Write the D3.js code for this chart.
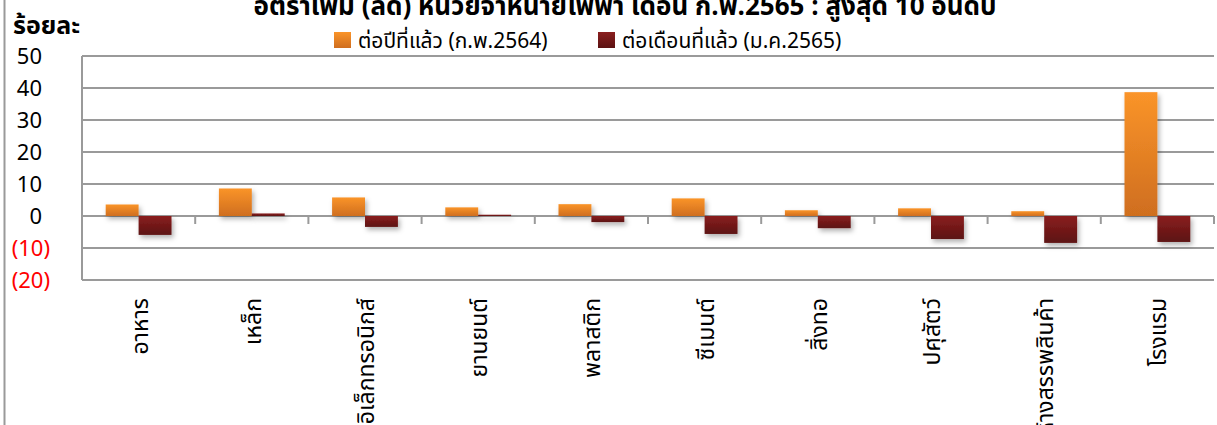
<!DOCTYPE html>
<html><head><meta charset="utf-8">
<script src="https://cdn.jsdelivr.net/npm/d3@7"></script>
<style>
html,body{margin:0;padding:0;background:#fff;overflow:hidden;}
svg{display:block;font-family:Tahoma,"Leelawadee UI","Noto Sans Thai","Noto Sans",sans-serif;}
</style></head>
<body>
<svg id="chart" width="1217" height="425"></svg>
<script>
const categories = ["อาหาร","เหล็ก","อิเล็กทรอนิกส์","ยานยนต์","พลาสติก","ซีเมนต์","สิ่งทอ","ปศุสัตว์","ห้างสรรพสินค้า","โรงแรม"];
const yoyValues = [3.6, 8.6, 5.8, 2.7, 3.7, 5.5, 1.8, 2.4, 1.5, 38.7];
const momValues = [-5.9, 0.8, -3.4, 0.4, -1.9, -5.6, -3.8, -7.2, -8.4, -8.1];
const seriesNames = ["ต่อปีที่แล้ว (ก.พ.2564)", "ต่อเดือนที่แล้ว (ม.ค.2565)"];
const yTicks = [50, 40, 30, 20, 10, 0, -10, -20];
const titleText = "อัตราเพิ่ม (ลด) หน่วยจำหน่ายไฟฟ้า เดือน ก.พ.2565 : สูงสุด 10 อันดับ";
const yTitle = "ร้อยละ";

const svg = d3.select("#chart");
const W = 1217, H = 425;
const m = {left: 82, right: 1214, top: 56, bottom: 280};

const defs = svg.append("defs");
function grad(id, c1, c2){
  const g = defs.append("linearGradient").attr("id", id).attr("x1",0).attr("y1",0).attr("x2",0).attr("y2",1);
  g.append("stop").attr("offset","0%").attr("stop-color",c1);
  g.append("stop").attr("offset","100%").attr("stop-color",c2);
}
grad("gOrange", "#FA9429", "#CF6E1F");
grad("gRed", "#8A1F1F", "#5C1212");
const f = defs.append("filter").attr("id","shadow").attr("x","-30%").attr("y","-30%").attr("width","160%").attr("height","160%");
f.append("feDropShadow").attr("dx",2).attr("dy",3).attr("stdDeviation",2.5).attr("flood-color","#000").attr("flood-opacity",0.3);

// outer border
svg.append("line").attr("x1",4.5).attr("x2",4.5).attr("y1",0).attr("y2",H).attr("stroke","#9a9a9a").attr("stroke-width",2);

const x0 = d3.scaleBand().domain(categories).range([m.left, m.right]).paddingInner(0).paddingOuter(0);
const x1 = d3.scaleBand().domain([0,1]).range([0, x0.bandwidth()]).paddingInner(0).paddingOuter(0.72);
const y = d3.scaleLinear().domain([-20, 50]).range([m.bottom, m.top]);

// gridlines
svg.append("g").selectAll("line").data(yTicks).join("line")
  .attr("x1", m.left).attr("x2", m.right)
  .attr("y1", d => y(d)).attr("y2", d => y(d))
  .attr("stroke", "#9a9a9a").attr("stroke-width", 2);
// left border
svg.append("line").attr("x1", m.left).attr("x2", m.left).attr("y1", y(50)).attr("y2", y(-20))
  .attr("stroke","#9a9a9a").attr("stroke-width",2);

// category ticks along zero line
const tickXs = categories.map(c => x0(c)).concat([m.right]);
svg.append("g").selectAll("line").data(tickXs.slice(1)).join("line")
  .attr("x1", d => d).attr("x2", d => d).attr("y1", y(0)).attr("y2", y(0)+8)
  .attr("stroke","#9a9a9a").attr("stroke-width",2);

// bars
const g = svg.append("g");
const series = [yoyValues, momValues];
const fills = ["url(#gOrange)", "url(#gRed)"];
series.forEach((vals, si) => {
  g.append("g").attr("filter","url(#shadow)").selectAll("rect").data(vals).join("rect")
    .attr("x", (d,i) => x0(categories[i]) + x1(si))
    .attr("width", x1.bandwidth())
    .attr("y", d => y(Math.max(0,d)))
    .attr("height", d => Math.abs(y(d) - y(0)))
    .attr("fill", fills[si]);
});

// y tick labels
svg.append("g").selectAll("text").data(yTicks).join("text")
  .attr("x", d => d < 0 ? 50 : 42)
  .attr("y", d => y(d) + 8)
  .attr("text-anchor","end")
  .attr("font-size", 22)
  .attr("fill", d => d < 0 ? "#ff0000" : "#000")
  .text(d => d < 0 ? "(" + Math.abs(d) + ")" : d);

// y title
svg.append("text").attr("x", 13).attr("y", 34).attr("font-size", 25).attr("font-weight","bold").text(yTitle);

// title
svg.append("text").attr("x", 625).attr("y", 15).attr("text-anchor","middle")
  .attr("font-size", 26).attr("font-weight","bold").text(titleText);

// legend
const legX = [334, 598];
const leg = svg.append("g");
seriesNames.forEach((n, i) => {
  leg.append("rect").attr("x", legX[i]).attr("y", 32).attr("width", 17).attr("height", 16).attr("fill", fills[i]);
  leg.append("text").attr("x", legX[i] + 24).attr("y", 48).attr("font-size", 21).text(n);
});

// category labels
svg.append("g").selectAll("text").data(categories).join("text")
  .attr("transform", d => `translate(${x0(d) + x0.bandwidth()/2 + 9},298) rotate(-90)`)
  .attr("text-anchor","end")
  .attr("font-size", 23)
  .text(d => d);
</script>
</body></html>
